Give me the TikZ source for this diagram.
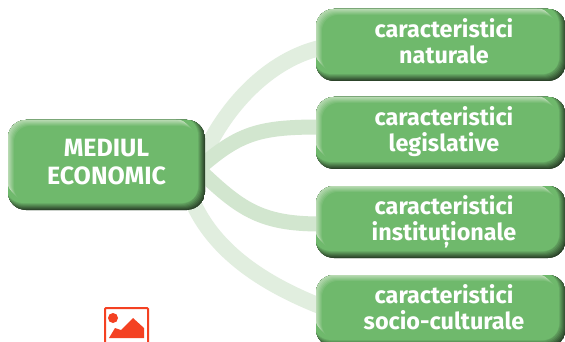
\documentclass[tikz,border=0pt]{standalone}
\usepackage{fontspec}
\setmainfont{Fira Sans}
\usetikzlibrary{calc}
\definecolor{basegreen}{HTML}{6FB96C}
\definecolor{darkgreen}{HTML}{2C442A}
\definecolor{lightgreen}{HTML}{C4DFBE}
\definecolor{linkA}{HTML}{E1EEDF}
\definecolor{linkB}{HTML}{D2E6CF}
\definecolor{iconred}{HTML}{F44122}
\newcommand{\bevelbox}{%
  \foreach \i in {0,...,7}{
    \pgfmathsetmacro{\p}{min(100,\i*100/7)}
    \pgfmathsetmacro{\off}{\i}
    \fill[basegreen!\p!darkgreen,rounded corners=18pt]
      ([xshift=-3pt,yshift=3pt]path picture bounding box.north west) rectangle
      ([xshift=-\off pt,yshift=\off pt]path picture bounding box.south east);
  }
  \foreach \i in {0,...,7}{
    \pgfmathsetmacro{\p}{min(100,\i*100/7)}
    \pgfmathsetmacro{\off}{\i-1}
    \pgfmathsetmacro{\brx}{14-\i}
    \fill[basegreen!\p!lightgreen,rounded corners=16pt]
      ([xshift=\off pt,yshift=-\off pt]path picture bounding box.north west) rectangle
      ([xshift=-\brx pt,yshift=\brx pt]path picture bounding box.south east);
  }
}
\newcommand{\lbl}[3]{\raisebox{#1pt}{\hspace*{#2pt}\begin{tabular}{@{}c@{}}#3\end{tabular}}}
\tikzset{
  bevel/.style={rounded corners=18pt,inner sep=0pt,text=white,align=center,
    path picture={\bevelbox}},
  mainbox/.style={bevel,minimum width=197pt,minimum height=90pt,
    font=\bfseries\fontsize{25}{28}\selectfont},
  sidebox/.style={bevel,minimum width=250pt,minimum height=72pt,
    font=\bfseries\fontsize{23.4}{26}\selectfont},
  linka/.style={draw=linkA,line width=16pt},
  linkb/.style={draw=linkB,line width=15pt},
}
\begin{document}
\begin{tikzpicture}[x=1pt,y=-1pt]
\useasboundingbox (0,0) rectangle (565,342);
\clip (0,0) rectangle (565,342);
\fill[white] (0,0) rectangle (565,342);
% nodes are placed first so that the links can use their names
\node[mainbox] (main) at (106.5,165) {};
\node[sidebox] (s1) at (441,45) {};
\node[sidebox] (s2) at (441,133) {};
\node[sidebox] (s3) at (441,222) {};
\node[sidebox] (s4) at (441,311) {};
\draw[linka] ([shift={(-6,0)}]main.east) .. controls +(25,-60) and +(-50,12) .. ([shift={(4,3)}]s1.west);
\draw[linka] ([shift={(-12,38)}]main.east) .. controls +(25,55) and +(-45,-18) .. ([shift={(4,-5)}]s4.west);
\draw[linkb] ([shift={(-6,3)}]main.east) .. controls +(40,-35) and +(-60,0) .. ([shift={(4,-6)}]s2.west);
\draw[linkb] ([shift={(-6,5)}]main.east) .. controls +(40,38) and +(-60,0) .. ([shift={(4,2)}]s3.west);
\node[mainbox] (main) at (106.5,165) {\lbl{4}{0}{MEDIUL\\ECONOMIC}};
\node[sidebox] (s1) at (441,45) {\lbl{3}{6}{caracteristici\\naturale}};
\node[sidebox] (s2) at (441,133) {\lbl{2}{6}{caracteristici\\legislative}};
\node[sidebox] (s3) at (441,222) {\lbl{3}{6}{caracteristici\\instituționale}};
\node[sidebox] (s4) at (441,311) {\lbl{3}{6}{caracteristici\\socio-culturale}};
% image icon
\draw[iconred,line width=2pt,rounded corners=1pt] (105,308) rectangle (148,350);
\fill[iconred] (113,318) circle (5);
\fill[iconred] (109,338) -- (115,328) -- (121,330) -- (133,318) -- (144,328) -- (144,338) -- cycle;
\end{tikzpicture}
\end{document}
